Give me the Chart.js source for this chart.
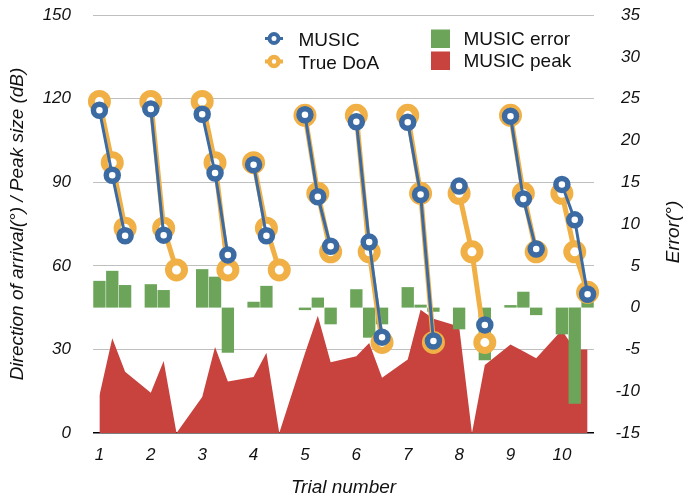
<!DOCTYPE html>
<html>
<head>
<meta charset="utf-8">
<script src="https://cdn.jsdelivr.net/npm/chart.js@4.4.1/dist/chart.umd.min.js"></script>
<style>
  html, body { margin: 0; padding: 0; background: #ffffff; }
  #c { display: block; }
</style>
</head>
<body>
<canvas id="c" width="686" height="500"></canvas>
<script>
// Trials, each with three sound sources (one slot per source, plus a spacer slot between trials)
const trialNumbers = [1, 2, 3, 4, 5, 6, 7, 8, 9, 10];

// True direction of arrival per source (degrees)
const trueDoA = [
  [119, 97, 73.5], [119, 73.5, 58.5], [119, 97, 58.5], [97, 73.5, 58.5], [114, 86, 65],
  [114, 65, 32.5], [114, 86, 32.5], [86, 65, 32.5], [114, 86, 65], [86, 65, 50.5]
];

// MUSIC estimate per source (degrees); null where no peak was found
const musicDoA = [
  [115.8, 92.5, 70.8], [116.3, 71, null], [114.4, 93.3, 63.9], [96.3, 70.8, null], [114.2, 84.8, 67],
  [111.7, 68.5, 34.4], [111.5, 85.6, 33], [88.6, null, 38.8], [113.7, 84, 66], [89.2, 76.5, 49.8]
];

// MUSIC error per source (degrees, right axis)
const musicError = [
  [3.2, 4.4, 2.7], [2.8, 2.1, null], [4.6, 3.7, -5.4], [0.7, 2.6, null], [-0.3, 1.2, -2.0],
  [2.2, -3.6, -2.0], [2.45, 0.35, -0.5], [-2.6, null, -6.3], [0.3, 1.9, -0.9], [-3.2, -11.5, 0.75]
];

// MUSIC peak size per source (dB, left axis)
const musicPeak = [
  [13.5, 34, 22], [14.4, 25.8, 0], [12.9, 30.9, 18.5], [20.1, 28.8, 0], [28.6, 42.1, 25.4],
  [27.5, 32.3, 19.8], [26.4, 44.2, 41], [38.2, 0, 24.4], [31.8, 29.3, 26.8], [37, 30, 30]
];

// Axis ticks
const leftTicks = { min: 0, max: 150, step: 30 };
const rightTicks = { min: -15, max: 35, step: 5 };

const COLORS = {
  blue: '#3b6ba2',
  orange: '#f0b046',
  green: '#6ca55a',
  red: '#c8433d',
  grid: '#bfbfbf',
  text: '#111111'
};
const FONT = "'Liberation Sans', Arial, Helvetica, sans-serif";
const CLEAR = 'rgba(0,0,0,0)';

// lay the per-trial groups out on the slot axis, with an empty slot between trials
function toSlots(groups) {
  const out = [];
  groups.forEach((g, i) => {
    out.push(...g);
    if (i < groups.length - 1) out.push(null);
  });
  return out;
}
const slotLabels = [];
trialNumbers.forEach((t, i) => {
  slotLabels.push(String(t), '', '');
  if (i < trialNumbers.length - 1) slotLabels.push('');
});

// legend drawn inside the plot, in two columns, plus the right-hand axis title
const overlay = {
  id: 'overlay',
  afterDraw(chart) {
    const ctx = chart.ctx;
    const ds = chart.data.datasets;
    ctx.save();
    ctx.font = '19px ' + FONT;
    ctx.fillStyle = COLORS.text;
    ctx.textBaseline = 'alphabetic';
    ctx.textAlign = 'left';

    const lineItems = [
      { d: ds[0], cy: 38.5, r: 4.5, w: 4, lw: 3 },
      { d: ds[1], cy: 61.5, r: 4.5, w: 4.5, lw: 4 }
    ];
    lineItems.forEach(it => {
      const cx = 274;
      ctx.strokeStyle = it.d.borderColor;
      ctx.lineWidth = it.lw;
      ctx.beginPath();
      ctx.moveTo(cx - 9, it.cy);
      ctx.lineTo(cx + 9, it.cy);
      ctx.stroke();
      ctx.beginPath();
      ctx.arc(cx, it.cy, it.r, 0, Math.PI * 2);
      ctx.fillStyle = '#ffffff';
      ctx.fill();
      ctx.lineWidth = it.w;
      ctx.stroke();
      ctx.fillStyle = COLORS.text;
      ctx.fillText(it.d.label, 298.5, it.cy + 7);
    });

    const boxItems = [
      { d: ds[2], top: 29.5 },
      { d: ds[3], top: 51.5 }
    ];
    boxItems.forEach(it => {
      ctx.fillStyle = it.d.backgroundColor;
      ctx.fillRect(431, it.top, 19, 18.5);
      ctx.fillStyle = COLORS.text;
      ctx.fillText(it.d.label, 463.5, it.top + 15.5);
    });

    // right axis title, reading bottom to top
    const area = chart.chartArea;
    ctx.font = 'italic 19px ' + FONT;
    ctx.textAlign = 'center';
    ctx.textBaseline = 'middle';
    ctx.translate(674, (area.top + area.bottom) / 2 + 8);
    ctx.rotate(-Math.PI / 2);
    ctx.fillText('Error(°)', 0, 0);
    ctx.restore();
  }
};

const tickFont = { family: FONT, size: 17, style: 'italic' };
const titleFont = { family: FONT, size: 19, style: 'italic' };

new Chart(document.getElementById('c'), {
  type: 'bar',
  data: {
    labels: slotLabels,
    datasets: [
      {
        type: 'line',
        label: 'MUSIC',
        data: toSlots(musicDoA),
        yAxisID: 'y',
        order: 0,
        borderColor: COLORS.blue,
        borderWidth: 3,
        pointRadius: 6,
        pointBorderWidth: 5.5,
        pointBackgroundColor: '#ffffff',
        pointBorderColor: COLORS.blue,
        spanGaps: false,
        tension: 0,
        fill: false
      },
      {
        type: 'line',
        label: 'True DoA',
        data: toSlots(trueDoA),
        yAxisID: 'y',
        order: 1,
        borderColor: COLORS.orange,
        borderWidth: 5,
        pointRadius: 8,
        pointBorderWidth: 7,
        pointBackgroundColor: '#ffffff',
        pointBorderColor: COLORS.orange,
        spanGaps: false,
        tension: 0,
        fill: false
      },
      {
        type: 'bar',
        label: 'MUSIC error',
        data: toSlots(musicError),
        yAxisID: 'y1',
        order: 2,
        backgroundColor: COLORS.green,
        borderWidth: 0,
        barPercentage: 0.96,
        categoryPercentage: 1
      },
      {
        type: 'line',
        label: 'MUSIC peak',
        data: toSlots(musicPeak),
        yAxisID: 'y',
        order: 3,
        backgroundColor: COLORS.red,
        borderColor: COLORS.red,
        borderWidth: 0,
        pointRadius: 0,
        spanGaps: true,
        tension: 0,
        fill: 'origin'
      }
    ]
  },
  options: {
    responsive: false,
    animation: false,
    devicePixelRatio: 1,
    layout: { padding: { top: 15, left: 0, right: 46, bottom: 0 } },
    plugins: {
      legend: { display: false },
      tooltip: { enabled: false }
    },
    scales: {
      x: {
        type: 'category',
        offset: true,
        grid: { display: false, drawTicks: true, tickLength: 12, tickColor: CLEAR },
        border: { display: false },
        ticks: {
          autoSkip: false,
          maxRotation: 0,
          minRotation: 0,
          padding: 0,
          color: COLORS.text,
          font: tickFont
        },
        title: {
          display: true,
          text: 'Trial number',
          color: COLORS.text,
          font: titleFont,
          padding: { top: 0, bottom: 1 }
        },
        afterFit(scale) { scale.height = 67; }
      },
      y: {
        position: 'left',
        min: leftTicks.min,
        max: leftTicks.max,
        grid: {
          drawTicks: true,
          tickLength: 22,
          tickColor: CLEAR,
          color: c => (c.tick && c.tick.value === 0) ? '#000000' : COLORS.grid,
          lineWidth: c => (c.tick && c.tick.value === 0) ? 1.5 : 1
        },
        border: { display: false },
        ticks: {
          stepSize: leftTicks.step,
          padding: 0,
          color: COLORS.text,
          font: tickFont
        },
        title: {
          display: true,
          text: 'Direction of arrival(°) / Peak size (dB)',
          color: COLORS.text,
          font: titleFont,
          padding: { top: 6, bottom: 0 }
        },
        afterFit(scale) { scale.width = 93; }
      },
      y1: {
        position: 'right',
        min: rightTicks.min,
        max: rightTicks.max,
        grid: { display: false, drawTicks: true, tickLength: 18, tickColor: CLEAR },
        border: { display: false },
        ticks: {
          stepSize: rightTicks.step,
          padding: 0,
          crossAlign: 'far',
          color: COLORS.text,
          font: tickFont
        },
        afterFit(scale) { scale.width = 46; }
      }
    }
  },
  plugins: [overlay]
});
</script>
</body>
</html>
